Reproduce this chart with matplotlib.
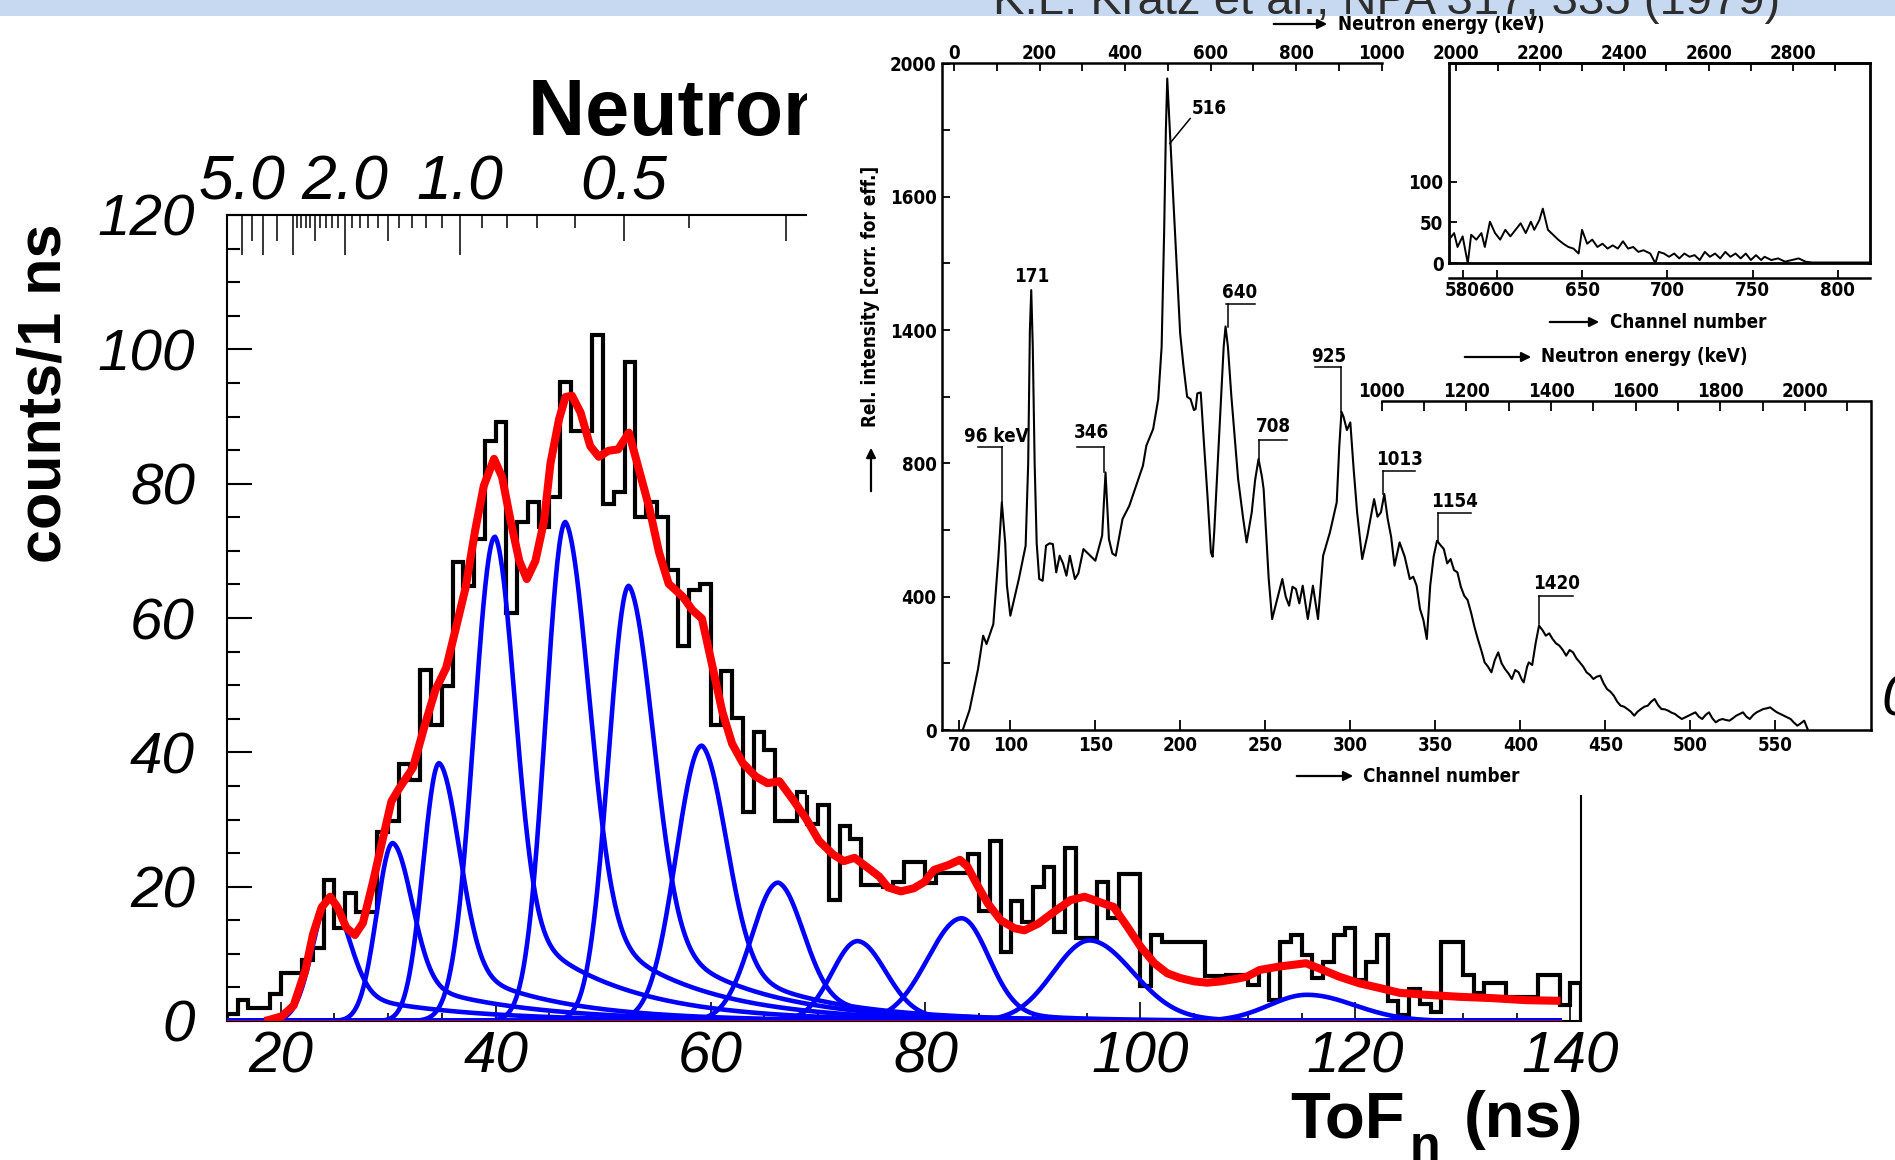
import os
import numpy as np
import matplotlib
matplotlib.use("Agg")
import matplotlib.pyplot as plt
from matplotlib import font_manager
from matplotlib.patches import Rectangle, FancyArrowPatch
from matplotlib.ticker import MultipleLocator

plt.rcParams['font.family'] = ['Liberation Sans', 'DejaVu Sans']

W, H, DPI = 1895, 1160, 100

# ---------------- neutron time-of-flight spectrum (1 ns bins from 15 ns) ----------------
tof_first_edge = 15
tof_counts = [
    1.0, 3.2, 2.0, 2.0, 4.0, 7.1, 7.1, 9.1, 10.9, 21.0,          # 15-24
    13.9, 19.0, 16.2, 16.2, 28.1, 29.8, 38.2, 35.9, 52.2, 44.0,  # 25-34
    49.9, 68.3, 64.8, 71.8, 86.3, 89.2, 60.7, 74.3, 77.2, 73.5,  # 35-44
    78.0, 95.2, 87.8, 87.8, 102.2, 76.9, 78.7, 98.1, 75.1, 77.2, # 45-54
    75.1, 67.1, 55.8, 64.2, 65.1, 44.0, 52.1, 45.1, 31.1, 43.0,  # 55-64
    40.3, 29.8, 29.8, 34.1, 29.4, 32.1, 18.0, 29.1, 27.1, 20.2,  # 65-74
    20.2, 20.0, 20.7, 23.7, 23.7, 20.5, 22.0, 22.0, 22.0, 24.9,  # 75-84
    16.4, 26.8, 10.3, 17.8, 14.8, 19.9, 22.9, 13.3, 25.8, 12.3,  # 85-94
    12.3, 20.7, 15.3, 21.9, 21.9, 5.2, 12.8, 11.7, 11.7, 11.7,   # 95-104
    11.7, 6.7, 6.7, 6.8, 6.8, 5.4, 7.7, 3.2, 11.8, 12.8,         # 105-114
    9.8, 6.4, 8.8, 12.8, 13.8, 6.1, 8.8, 12.8, 3.0, 0.9,         # 115-124
    4.7, 2.5, 1.4, 11.7, 11.7, 6.8, 4.2, 5.7, 5.7, 3.6,          # 125-134
    3.6, 3.6, 6.8, 6.8, 2.4, 5.7,                                # 135-140
]

# total fit curve
fit_tof = [18.5, 19.0, 20.1, 21.2, 22.3, 23.0, 23.8, 24.6, 25.3, 26.1, 26.9, 27.65,
           28.6, 29.35, 30.3, 31.05, 32.3, 33.4, 34.4, 35.4, 36.3, 37.2, 38.1, 38.9,
           39.85, 40.6, 41.4, 42.2, 42.9, 43.7, 44.5, 45.1, 45.9, 46.5, 47.1, 47.9,
           48.8, 49.6, 50.5, 51.4, 52.4, 53.3, 54.3, 55.2, 56.1, 57.4, 58.3, 59.2,
           60.2, 61.1, 62.0, 63.0, 64.2, 65.3, 66.4, 67.6, 68.9, 70.1, 71.4, 72.4,
           73.4, 74.4, 75.7, 76.5, 77.7, 78.9, 79.9, 80.8, 82.1, 83.2, 83.9, 84.9,
           85.8, 87.0, 88.3, 89.2, 90.5, 92.0, 93.5, 94.8, 95.7, 96.9, 97.5, 98.8,
           100.0, 101.3, 102.5, 103.7, 105.0, 106.2, 107.5, 109.0, 109.9, 111.1,
           112.9, 115.4, 117.0, 118.5, 120.4, 122.3, 124.1, 126.6, 129.7, 132.8,
           135.9, 139.1]
fit_counts = [0.0, 0.2, 0.7, 2.3, 7.6, 12.9, 16.9, 18.5, 16.9, 13.9, 12.8, 14.6,
              20.8, 26.1, 32.7, 34.7, 37.7, 44.0, 49.3, 52.6, 58.5, 64.5, 73.1, 79.7,
              83.7, 81.0, 74.4, 68.5, 65.8, 68.5, 74.4, 83.0, 89.6, 92.9, 93.1, 90.6,
              85.6, 84.0, 84.9, 85.1, 87.6, 82.3, 76.4, 69.8, 65.1, 63.2, 61.2, 59.9,
              52.6, 46.0, 41.3, 38.4, 36.4, 35.4, 35.7, 33.1, 30.1, 26.8, 24.8, 23.8,
              24.3, 23.1, 21.5, 19.9, 19.3, 19.75, 20.7, 22.5, 23.2, 24.0, 23.0, 20.0,
              17.5, 15.0, 13.8, 13.5, 14.5, 16.3, 18.0, 18.5, 18.0, 17.3, 17.0, 14.0,
              11.1, 8.6, 7.1, 6.4, 5.9, 5.7, 5.9, 6.3, 6.6, 7.6,
              8.1, 8.6, 7.6, 6.6, 5.6, 4.9, 4.2, 3.9, 3.6, 3.4,
              3.1, 3.0]
fit_range = (15.0, 139.2)

# individual peak components: centre (ns), height, left/right width, tail fraction, tail length
comp_center = [24.57, 30.43, 34.75, 39.94, 46.5, 52.4, 59.2, 66.3, 73.7, 83.4, 95.3, 115.5]
comp_height = [18.3, 26.5, 38.4, 72.1, 74.3, 64.8, 41.0, 20.6, 11.9, 15.3, 12.0, 3.9]
comp_sig_l = [1.6, 1.5, 1.5, 1.95, 1.85, 1.9, 2.4, 2.5, 2.4, 3.2, 3.4, 3.5]
comp_sig_r = [1.8, 1.8, 1.9, 1.85, 2.2, 2.3, 2.3, 2.35, 2.6, 2.5, 4.0, 4.4]
comp_tail = [0.25, 0.25, 0.25, 0.25, 0.25, 0.25, 0.25, 0.2, 0.1, 0.1, 0.05, 0.0]
comp_tail_len = [10, 10, 9, 9, 9, 9, 9, 9, 8, 8, 8, 8]

# neutron-energy scale on the top axis (MeV)
energy_long = [5.0, 4.0, 3.0, 2.0, 1.0]
energy_mid = [4.5, 3.5, 2.5, 1.5, 0.5, 0.3]
energy_short = [2.9, 2.8, 2.7, 2.6, 2.4, 2.3, 2.2, 2.1, 1.9, 1.8, 1.7, 1.6,
                1.4, 1.3, 1.2, 1.1, 0.9, 0.8, 0.7, 0.6, 0.4, 0.2]
energy_labels = {5.0: '5.0', 2.0: '2.0', 1.0: '1.0', 0.5: '0.5'}
FLIGHT_PATH_M = 0.5076

# ---------------- reference spectrum (channel number vs relative intensity) ----------------
ref_channel = [72, 76, 81, 84, 86, 90, 93, 95, 97, 98, 100, 105, 109, 110.5, 111.5, 112.3,
               113.2, 114.3, 115.5, 117, 119, 121, 123, 125, 127, 129, 131, 133, 135, 138,
               140, 143, 147, 150, 154, 156, 158, 160, 162, 166, 170, 174, 178, 180, 184,
               187, 189, 190.5, 191.5, 192.3, 193.9, 195.9, 197.9, 199.9, 201.9, 204, 206,
               208, 209, 210, 212, 214, 216, 218, 219, 220, 222, 224, 225.5, 226.6, 228,
               230, 232, 234, 237, 239, 242, 244, 246, 248, 249, 252, 254, 257, 260, 262,
               264, 266, 268, 270, 272, 275, 278, 281, 284, 288, 292, 293.5, 294.8, 296,
               298, 300, 302, 304, 307, 310, 314, 316, 318, 320, 322, 324, 326, 329, 332,
               335, 337, 339, 341, 343, 345, 347, 349, 351, 353, 355, 357, 359, 361, 363,
               365, 367, 369, 371, 373, 375, 377, 379, 381, 383, 385, 387, 389, 391, 393,
               395, 397, 399, 401, 402, 404, 405, 407, 409, 411, 413, 415, 417, 419, 421,
               423, 425, 427, 429, 431, 433, 435, 437, 439, 441, 443, 445, 447, 449, 451,
               453, 455, 457, 459, 461, 463, 465, 467, 469, 471, 473, 475, 477, 479, 481,
               483, 485, 487, 489, 491, 493, 495, 497, 499, 501, 503, 505, 507, 509, 511,
               513, 515, 517, 519, 521, 523, 525, 527, 529, 531, 533, 535, 537, 539, 541,
               543, 545, 547, 549, 551, 553, 555, 557, 559, 561, 563, 565, 567, 569]
ref_intensity = [0, 60, 183, 283, 258, 318, 520, 683, 560, 433, 343, 453, 553, 800, 1200, 1320,
                 1150, 800, 560, 453, 448, 553, 560, 558, 473, 523, 500, 463, 523, 453,
                 470, 543, 523, 508, 583, 773, 573, 530, 523, 633, 673, 733, 793, 853, 903,
                 993, 1150, 1500, 1800, 1955, 1790, 1590, 1390, 1190, 1090, 1000, 993,
                 960, 963, 1010, 1013, 853, 700, 533, 520, 600, 800, 1000, 1150, 1211, 1150,
                 1003, 880, 753, 633, 563, 653, 750, 813, 760, 723, 453, 333, 393, 453, 400,
                 373, 430, 423, 380, 433, 333, 433, 333, 523, 593, 683, 850, 955, 940,
                 900, 923, 780, 653, 513, 583, 693, 640, 653, 708, 633, 580, 493, 563, 520,
                 453, 460, 433, 363, 330, 273, 433, 520, 568, 555, 543, 500, 513, 480, 473,
                 430, 403, 390, 353, 310, 273, 240, 203, 190, 173, 210, 233, 200, 183, 170,
                 153, 180, 173, 150, 143, 190, 203, 195, 260, 313, 300, 283, 290, 273, 260,
                 253, 240, 223, 240, 233, 215, 203, 190, 173, 165, 153, 160, 163, 140, 123,
                 115, 103, 85, 73, 70, 63, 55, 43, 55, 63, 70, 73, 85, 93, 75,
                 63, 62, 58, 52, 48, 40, 33, 38, 43, 48, 53, 40, 33, 45, 53,
                 35, 23, 30, 33, 30, 28, 35, 43, 48, 53, 40, 33, 45, 53, 58,
                 63, 65, 68, 60, 53, 48, 43, 38, 33, 22, 13, 20, 28, 3]

tail_channel = [572, 575, 577, 580, 583, 585, 588, 591, 593, 596, 599, 602, 605, 608, 611,
                614, 617, 620, 622, 625, 627, 630, 633, 636, 639, 642, 645, 648, 650, 653,
                656, 659, 662, 665, 668, 671, 674, 677, 680, 683, 686, 690, 693, 695, 698,
                701, 704, 707, 710, 713, 716, 719, 722, 725, 728, 731, 734, 737, 740, 743,
                746, 749, 752, 755, 757, 761, 765, 769, 773, 777, 781, 785, 791, 799, 807,
                818]
tail_intensity = [29, 37, 20, 33, 0, 35, 29, 37, 20, 51, 37, 29, 41, 33, 41,
                  49, 37, 51, 41, 53, 67, 41, 35, 29, 24, 20, 18, 12, 41, 24,
                  29, 20, 24, 18, 22, 18, 27, 18, 20, 14, 16, 12, 0, 14, 12,
                  8, 12, 6, 12, 8, 10, 4, 14, 8, 12, 6, 14, 8, 12, 6,
                  12, 4, 10, 4, 8, 4, 6, 2, 4, 6, 2, 1, 1, 1, 1,
                  1]

ref_channel_ticks = [70, 100, 150, 200, 250, 300, 350, 400, 450, 500, 550]
ref_int_ticks = [0, 200, 400, 600, 800, 1000, 1200, 1400, 1600, 1800, 2000]
ref_int_labels = ['0', '', '400', '', '800', '', '1400', '', '1600', '', '2000']
ref_energy1_ticks = list(range(0, 1001, 100))
ref_energy1_labels = ['0', '', '200', '', '400', '', '600', '', '800', '', '1000']
ref_energy2_ticks = list(range(1000, 2101, 100))
ref_energy2_labels = ['1000', '', '1200', '', '1400', '', '1600', '', '1800', '', '2000', '']
tail_channel_ticks = [580, 600, 650, 700, 750, 800]
tail_int_ticks = [0, 50, 100]
tail_energy_ticks = list(range(2000, 2901, 100))
tail_energy_labels = ['2000', '', '2200', '', '2400', '', '2600', '', '2800', '']

# peak labels: text, text position, underline span/height, leader end
peak_text = ['96 keV', '171', '346', '516', '640', '708', '925', '1013', '1154', '1420']
peak_text_ch = [91.5, 112.5, 147.5, 217, 235, 255, 287, 329, 361, 421]
peak_text_y = [880, 1360, 893, 1865, 1312, 910, 1122, 812, 687, 440]
peak_ul_lo = [81, None, 139, None, 227, 246, 279, 319.5, 351.3, 411]
peak_ul_hi = [95, None, 155.3, None, 243.7, 262.6, 294.8, 338.2, 371.2, 430.8]
peak_ul_y = [850, None, 850, None, 1278, 870, 1090, 778, 651, 403]
peak_lead_ch = [95, None, 155.3, None, 227.8, 246, 294.8, 319.5, 351.3, 411]
peak_lead_end = [683, None, 773, None, 1210, 813, 955, 708, 568, 318]
peak_516_leader = ([205.8, 193.8], [1835, 1760])


def fx(x):
    return x / W


def fy(y):
    return 1 - y / H


def tof_of(e_mev):
    beta = np.sqrt(2.0 * np.asarray(e_mev, dtype=float) / 939.565)
    return FLIGHT_PATH_M / (beta * 0.299792458)


def component(t, c, h, sl, sr, w, tau):
    d = t - c
    left = np.exp(-0.5 * (d / sl) ** 2)
    right = (1 - w) * np.exp(-0.5 * (d / sr) ** 2) + w * np.exp(-np.clip(d, 0, None) / tau)
    return h * np.where(d < 0, left, right)


def narrow_font():
    for fam, stretch, size in [('Liberation Sans Narrow', 'condensed', 17),
                               ('DejaVu Sans', 'condensed', 13.5)]:
        try:
            path = font_manager.findfont(
                font_manager.FontProperties(family=fam, stretch=stretch, weight='bold'),
                fallback_to_default=False)
        except ValueError:
            continue
        name = os.path.basename(path).lower()
        if 'narrow' in name or 'condensed' in name:
            return dict(family=fam, fontstretch=stretch, fontweight='bold', fontsize=size)
    return dict(family='Liberation Sans', fontweight='bold', fontsize=13.5)


SCAN = narrow_font()

fig = plt.figure(figsize=(W / DPI, H / DPI), dpi=DPI)
fig.patch.set_facecolor('white')

# ---------------- main histogram panel ----------------
ax = fig.add_axes([fx(227), fy(1021), (1581 - 227) / W, (1021 - 215) / H])
ax.set_xlim(15, 141)
ax.set_ylim(0, 120)
edges = np.arange(tof_first_edge, tof_first_edge + len(tof_counts) + 1)
ax.stairs(tof_counts, edges, color='black', lw=3.0, zorder=2)

t_grid = np.linspace(fit_range[0], fit_range[1], 1500)
for i in range(len(comp_center)):
    y = component(t_grid, comp_center[i], comp_height[i], comp_sig_l[i], comp_sig_r[i],
                  comp_tail[i], comp_tail_len[i])
    ax.plot(t_grid, y, color='#0000ff', lw=3.3, zorder=3, solid_capstyle='butt')
ax.plot(t_grid, np.zeros_like(t_grid), color='#ff0000', lw=0.9, zorder=4)
ax.plot(fit_tof, fit_counts, color='#ff0000', lw=5.8, zorder=5,
        solid_joinstyle='round', solid_capstyle='butt')

for sp in ax.spines.values():
    sp.set_linewidth(1.5)
x_major = list(range(20, 141, 20))
y_major = list(range(0, 121, 20))
ax.set_xticks(x_major, [str(v) for v in x_major], fontstyle='italic', fontsize=42)
ax.set_yticks(y_major, [str(v) for v in y_major], fontstyle='italic', fontsize=42)
ax.xaxis.set_minor_locator(MultipleLocator(5))
ax.yaxis.set_minor_locator(MultipleLocator(5))
ax.tick_params(axis='x', which='major', direction='in', length=14, width=1.2, pad=7, top=False)
ax.tick_params(axis='x', which='minor', direction='in', length=6, width=1.2, top=False)
ax.tick_params(axis='y', which='major', direction='in', length=18, width=1.5, pad=23, right=False)
ax.tick_params(axis='y', which='minor', direction='in', length=9, width=1.5, right=False)

ax.text(fx(528), fy(135), 'Neutron energy (MeV)', transform=fig.transFigure,
        fontsize=57, fontweight='bold', ha='left', va='baseline', clip_on=False)

# energy scale along the top edge
top_long = ax.twiny()
top_long.set_xlim(ax.get_xlim())
top_long.set_xticks(tof_of(energy_long), [energy_labels.get(e, '') for e in energy_long],
                    fontstyle='italic', fontsize=45)
top_long.set_xticks(tof_of(energy_short), minor=True)
top_long.tick_params(axis='x', which='major', direction='in', length=29, width=1.1, pad=2)
top_long.tick_params(axis='x', which='minor', direction='in', length=9.5, width=1.1)
top_mid = ax.twiny()
top_mid.set_xlim(ax.get_xlim())
top_mid.set_xticks(tof_of(energy_mid), [energy_labels.get(e, '') for e in energy_mid],
                   fontstyle='italic', fontsize=45)
top_mid.tick_params(axis='x', which='major', direction='in', length=19, width=1.1, pad=2)
for a in (top_long, top_mid):
    for sp in a.spines.values():
        sp.set_visible(False)

fig.text(fx(45), fy(393), 'counts/1 ns', rotation=90, fontsize=44, fontweight='bold',
         ha='center', va='center')
# x caption: ToF with a large, deeply lowered subscript n
fig.text(fx(1290), fy(1137), 'ToF', fontsize=47, fontweight='bold', ha='left', va='baseline')
fig.text(fx(1410), fy(1161), 'n', fontsize=36, fontweight='bold', ha='left', va='baseline')
fig.text(fx(1583), fy(1137), '(ns)', fontsize=47, fontweight='bold', ha='right', va='baseline')

# ---------------- white backing of the reference figure ----------------
cover = fig.add_axes([fx(807), fy(795), (W - 807) / W, (795 - 15) / H])
cover.set_facecolor('white')
cover.set_xticks([])
cover.set_yticks([])
for sp in cover.spines.values():
    sp.set_visible(False)

# ---------------- reference spectrum ----------------
ax_in = fig.add_axes([fx(942), fy(730), (1871 - 942) / W, (730 - 63.5) / H])
ax_in.patch.set_visible(False)
ax_in.set_xlim(59.8, 606.3)
ax_in.set_ylim(0, 2000)
ax_in.plot(ref_channel, ref_intensity, color='black', lw=1.5)
ax_in.spines['top'].set_visible(False)
ax_in.spines['right'].set_bounds(0, 988)
for sp in ax_in.spines.values():
    sp.set_linewidth(1.8)
ax_in.set_xticks(ref_channel_ticks, [str(v) for v in ref_channel_ticks], **SCAN)
ax_in.set_yticks(ref_int_ticks, ref_int_labels, **SCAN)
ax_in.tick_params(axis='x', direction='in', length=7, width=1.3, pad=4)
ax_in.tick_params(axis='y', direction='in', length=6, width=1.3, pad=4)

for i, txt in enumerate(peak_text):
    ax_in.text(peak_text_ch[i], peak_text_y[i], txt, ha='center', va='center', **SCAN)
    if peak_ul_lo[i] is not None:
        ax_in.plot([peak_ul_lo[i], peak_ul_hi[i]], [peak_ul_y[i], peak_ul_y[i]],
                   color='black', lw=1.1)
        ax_in.plot([peak_lead_ch[i], peak_lead_ch[i]], [peak_ul_y[i], peak_lead_end[i]],
                   color='black', lw=1.1)
ax_in.plot(*peak_516_leader, color='black', lw=1.1)

ax_in.text(fx(1338), fy(24), 'Neutron energy (keV)', transform=fig.transFigure,
           ha='left', va='center', clip_on=False, **SCAN)
ax_in.annotate('', xy=(fx(1330), fy(24)), xytext=(fx(1271), fy(24)),
               xycoords='figure fraction', textcoords='figure fraction',
               arrowprops=dict(arrowstyle='-|>', lw=1.6, color='black', mutation_scale=14))


def scale_bar(x0, x1, y, lim, ticks, labels, side='top', length=6, pad=0.0):
    a = fig.add_axes([fx(x0), fy(y), (x1 - x0) / W, 1e-4])
    a.set_xlim(*lim)
    a.patch.set_visible(False)
    for name, sp in a.spines.items():
        sp.set_visible(name == side)
        sp.set_linewidth(1.8)
    a.set_yticks([])
    a.xaxis.set_ticks_position(side)
    a.set_xticks(ticks, labels, **SCAN)
    a.tick_params(axis='x', direction='in', length=length, width=1.3, pad=pad)
    return a


# energy scales of the reference spectrum
scale_bar(942, 1381.7, 63.5, (-28.3, 1000), ref_energy1_ticks, ref_energy1_labels, 'top', 5.5, 0)
scale_bar(1381.7, 1870, 400.7, (1000, 2154), ref_energy2_ticks, ref_energy2_labels, 'top', 7, 0)

# high-channel part of the spectrum
ax_sub = fig.add_axes([fx(1449), fy(263.3), (1869.6 - 1449) / W, (263.3 - 63.3) / H])
ax_sub.patch.set_visible(False)
ax_sub.set_xlim(572, 818.6)
ax_sub.set_ylim(0, 245)
ax_sub.plot(tail_channel, tail_intensity, color='black', lw=1.4)
for sp in ax_sub.spines.values():
    sp.set_linewidth(2.0)
ax_sub.set_xticks([])
ax_sub.set_yticks(tail_int_ticks, [str(v) for v in tail_int_ticks], **SCAN)
ax_sub.tick_params(axis='y', direction='in', length=6, width=1.3, pad=4)
scale_bar(1449, 1869.6, 63.3, (1984, 2982), tail_energy_ticks, tail_energy_labels, 'top', 6, 0)
scale_bar(1449, 1869.6, 278.3, (572, 818.6), tail_channel_ticks,
          [str(v) for v in tail_channel_ticks], 'bottom', 6, 2)

# axis captions of the reference spectrum
arrow_kw = dict(arrowstyle='-|>', lw=1.6, color='black', mutation_scale=14)
fig.text(fx(870), fy(296), 'Rel. intensity [corr. for eff.]', rotation=90,
         ha='center', va='center', **SCAN)
fig.add_artist(FancyArrowPatch((fx(871), fy(494)), (fx(871), fy(445)),
                               transform=fig.transFigure, **arrow_kw))
for x_tail, x_head, x_txt, yy, txt in [(1294, 1356, 1363, 776, 'Channel number'),
                                       (1547, 1602, 1610, 322, 'Channel number'),
                                       (1462, 1534, 1541, 357, 'Neutron energy (keV)')]:
    fig.add_artist(FancyArrowPatch((fx(x_tail), fy(yy)), (fx(x_head), fy(yy)),
                                   transform=fig.transFigure, **arrow_kw))
    fig.text(fx(x_txt), fy(yy), txt, ha='left', va='center', **SCAN)

# ---------------- slide decorations ----------------
fig.add_artist(Rectangle((0, fy(16)), 1, 16 / H, transform=fig.transFigure,
                         facecolor='#c6d9f1', edgecolor='none', zorder=1))
fig.text(fx(993), fy(14), 'K.L. Kratz et al., NPA 317, 335 (1979)', fontsize=34,
         color='#2e2e2e', ha='left', va='baseline')
fig.text(fx(1881), fy(701), '0', fontsize=42, fontstyle='italic', ha='left', va='center')

fig.savefig('out.png', dpi=DPI, facecolor='white')
